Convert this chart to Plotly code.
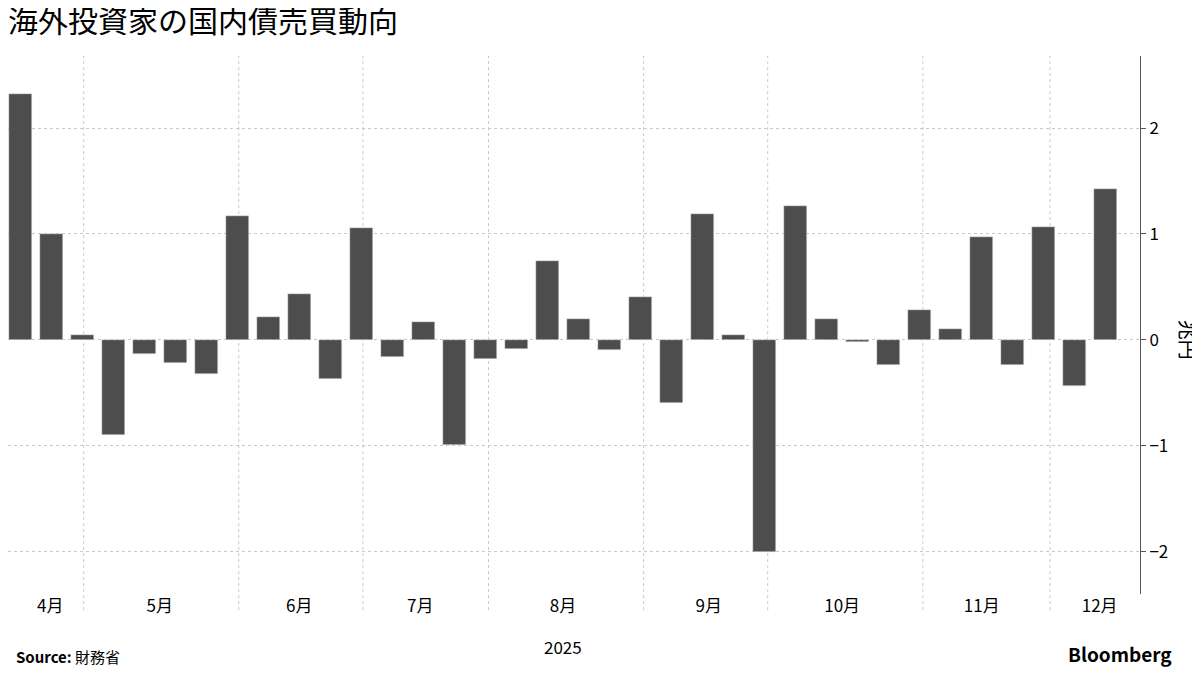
import plotly.graph_objects as go

values = [2.32, 1.0, 0.05, -0.9, -0.13, -0.22, -0.32, 1.17, 0.22, 0.43, -0.37, 1.06,
          -0.16, 0.17, -0.99, -0.18, -0.09, 0.74, 0.2, -0.1, 0.4, -0.6, 1.19, 0.05,
          -2.0, 1.26, 0.2, -0.02, -0.24, 0.28, 0.1, 0.97, -0.24, 1.07, -0.44, 1.42]
weeks = list(range(len(values)))
month_bounds = [2.05, 7.05, 11.05, 15.1, 20.1, 24.1, 29.1, 33.2]
month_labels = ["4月", "5月", "6月", "7月", "8月", "9月", "10月", "11月", "12月"]
month_pos = [0.97, 4.5, 9.0, 12.9, 17.5, 22.2, 26.5, 31.0, 34.8]
y_ticks = [-2, -1, 0, 1, 2]

font = "Noto Sans CJK JP"
fig = go.Figure(go.Bar(x=weeks, y=values, marker_color="#4d4d4d", width=0.74))

shapes = [dict(type="line", xref="x", yref="paper", x0=b, x1=b, y0=-0.03, y1=1,
               layer="below", line=dict(color="#c8c8c8", width=1, dash="dot"))
          for b in month_bounds]
fig.update_layout(
    width=1200, height=675, plot_bgcolor="white", paper_bgcolor="white",
    margin=dict(l=0, r=68, t=48, b=89, autoexpand=False), showlegend=False, bargap=0,
    font=dict(family=font, color="#000", size=17),
    title=dict(text="海外投資家の国内債売買動向", x=0.0, xanchor="left", y=0.995,
               yanchor="top", font=dict(size=30, family=font)),
    xaxis=dict(range=[-0.39, 36.1], tickvals=month_pos, ticktext=month_labels,
               showgrid=False, zeroline=False, ticks="", tickfont=dict(size=17)),
    yaxis=dict(side="right", range=[-2.4, 2.68], tickvals=y_ticks,
               showgrid=True, gridcolor="#c8c8c8", griddash="dot", zeroline=False,
               showline=True, linecolor="#555", ticks="outside", ticklen=5,
               tickcolor="#555", tickfont=dict(size=17)),
    shapes=shapes,
    annotations=[
        dict(text="兆円", x=1180, y=0, xref="paper", yref="y", textangle=90,
             showarrow=False, font=dict(size=20)),
        dict(text="2025", x=17.5, xref="x", y=-0.125, yref="paper", showarrow=False,
             font=dict(size=17)),
        dict(text="<b>Source:</b> 財務省", x=0.005, xref="paper", y=-0.14, yref="paper",
             xanchor="left", showarrow=False, font=dict(size=15)),
        dict(text="<b>Bloomberg</b>", x=1.03, xref="paper", xanchor="right", y=-0.14,
             yref="paper", showarrow=False, font=dict(size=19)),
    ],
)
fig.layout.annotations[0].update(x=1180 / 1132, xanchor="center")
fig.write_html("out.html")
